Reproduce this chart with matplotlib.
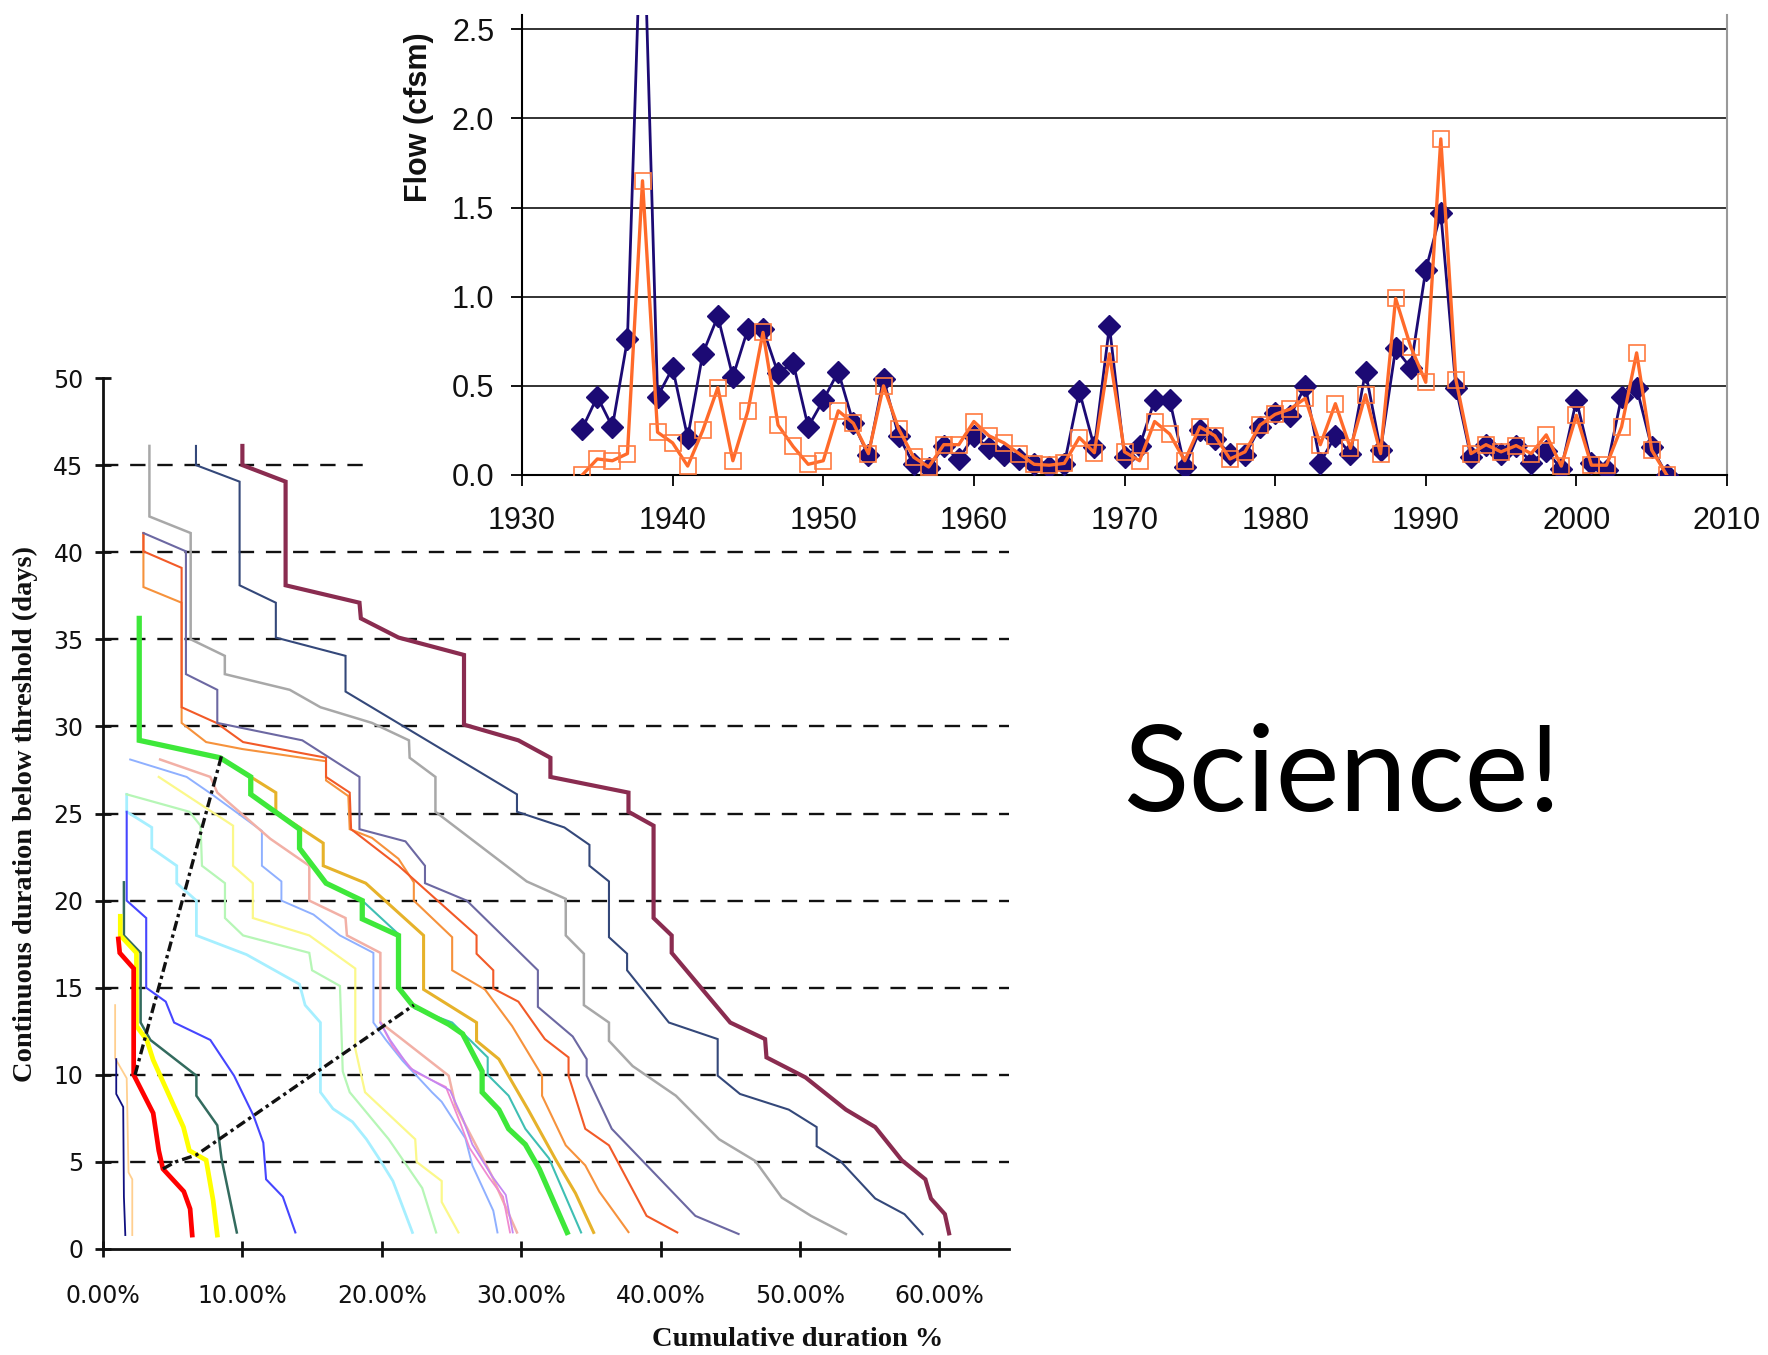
import matplotlib
matplotlib.use("Agg")
import matplotlib.pyplot as plt
import numpy as np

# Annual flow series (top chart)
years = list(range(1934, 2007))
flow_blue = [0.26, 0.44, 0.27, 0.76, 3.40, 0.44, 0.60, 0.21, 0.68, 0.89,
             0.55, 0.82, 0.82, 0.57, 0.63, 0.27, 0.42, 0.58, 0.29, 0.11,
             0.54, 0.22, 0.06, 0.04, 0.16, 0.09, 0.22, 0.15, 0.11, 0.09,
             0.06, 0.045, 0.06, 0.47, 0.155, 0.835, 0.10, 0.16, 0.42, 0.42,
             0.045, 0.25, 0.20, 0.12, 0.11, 0.27, 0.35, 0.33, 0.50, 0.07,
             0.22, 0.12, 0.58, 0.14, 0.71, 0.60, 1.15, 1.47, 0.49, 0.10,
             0.17, 0.12, 0.165, 0.07, 0.135, 0.035, 0.42, 0.065, 0.03, 0.44,
             0.49, 0.155, 0.0]
flow_orange = [0.0, 0.09, 0.08, 0.12, 1.65, 0.24, 0.18, 0.05, 0.25, 0.49,
               0.08, 0.36, 0.80, 0.28, 0.16, 0.06, 0.08, 0.36, 0.29, 0.12,
               0.50, 0.26, 0.10, 0.045, 0.17, 0.17, 0.30, 0.22, 0.18, 0.12,
               0.06, 0.055, 0.065, 0.21, 0.125, 0.68, 0.13, 0.08, 0.30, 0.23,
               0.08, 0.27, 0.22, 0.09, 0.13, 0.28, 0.34, 0.37, 0.43, 0.17,
               0.40, 0.15, 0.45, 0.12, 0.99, 0.72, 0.52, 1.885, 0.535, 0.12,
               0.17, 0.13, 0.165, 0.12, 0.225, 0.05, 0.335, 0.055, 0.055, 0.27,
               0.685, 0.14, 0.0]
flow_ticks = [0.0, 0.5, 1.0, 1.5, 2.0, 2.5]

# Duration curves (bottom chart): (cumulative duration %, days)
curve_maroon = [(10.0, 46.1), (10.0, 45), (13.1, 44.05), (13.1, 38.1), (18.4, 37.1), (18.5, 36.2),
                (21.2, 35.1), (25.9, 34.1), (25.9, 30.1), (29.8, 29.2), (32.1, 28.2), (32.1, 27.1),
                (37.7, 26.2), (37.7, 25.1), (39.5, 24.3), (39.5, 19.0), (40.8, 18.0), (40.8, 17.0),
                (45.0, 13.0), (47.5, 12.05), (47.6, 11.0), (50.4, 9.85), (53.3, 8.0), (55.4, 7.0),
                (57.3, 5.1), (59.0, 4.0), (59.4, 2.9), (60.4, 2.0), (60.7, 0.9)]
curve_navy_slate = [(6.67, 46.1), (6.67, 45), (9.8, 44.05), (9.8, 38.1), (12.4, 37.1), (12.4, 35.1),
                    (17.4, 34.05), (17.4, 32.0), (29.7, 26.1), (29.7, 25.1), (33.1, 24.2), (34.9, 23.2),
                    (34.9, 22.0), (36.3, 21.1), (36.3, 17.9), (37.6, 16.95), (37.6, 16.0), (40.6, 13.0),
                    (44.1, 12.05), (44.1, 9.95), (45.7, 8.9), (49.2, 8.0), (51.2, 7.0), (51.2, 5.9),
                    (52.9, 5.05), (55.4, 2.9), (57.5, 2.0), (58.8, 0.85)]
curve_gray = [(3.33, 46.1), (3.33, 42.05), (6.29, 41.1), (6.29, 35.0), (8.74, 34.05), (8.74, 33.0),
              (13.4, 32.1), (15.6, 31.1), (19.3, 30.2), (21.95, 29.2), (22.0, 28.2), (23.85, 27.1),
              (23.85, 25.1), (30.4, 21.1), (33.2, 20.1), (33.2, 18.0), (34.5, 16.95), (34.5, 14.0),
              (36.3, 13.0), (36.3, 11.95), (38.0, 10.5), (41.1, 8.8), (44.2, 6.3), (46.8, 5.05),
              (48.7, 2.95), (50.8, 1.9), (53.3, 0.86)]
curve_purple = [(2.9, 41.1), (5.95, 40.05), (5.95, 33.0), (8.2, 32.1), (8.2, 30.2), (14.3, 29.2),
                (18.4, 27.1), (18.4, 24.1), (21.7, 23.4), (23.1, 22.0), (23.1, 21.0), (26.1, 20.0),
                (31.2, 16.0), (31.2, 13.9), (33.7, 12.2), (34.7, 10.9), (34.7, 9.95), (36.5, 6.9),
                (42.5, 1.9), (45.6, 0.86)]
curve_orange_red = [(2.9, 41.1), (2.9, 40.05), (5.64, 39.1), (5.64, 31.1), (8.14, 30.2), (10.05, 29.1),
                    (16.0, 28.2), (16.0, 27.1), (17.7, 26.2), (17.8, 24.1), (21.2, 22.0), (26.8, 18.0),
                    (26.8, 16.95), (28.0, 16.0), (28.0, 14.95), (29.8, 14.2), (31.7, 12.05), (33.4, 11.0),
                    (33.4, 9.95), (34.6, 6.9), (36.3, 5.95), (39.0, 1.9), (41.2, 0.95)]
curve_sandy = [(2.9, 41.1), (2.9, 38.0), (5.64, 37.1), (5.64, 30.2), (7.4, 29.1), (10.0, 28.7),
               (16.0, 28.0), (16.0, 26.9), (17.6, 26.0), (17.7, 24.1), (19.3, 23.6), (21.2, 22.4),
               (22.3, 21.05), (22.3, 20.0), (25.05, 17.9), (25.05, 16.0), (27.4, 14.9), (29.35, 12.8),
               (31.5, 9.95), (31.5, 8.8), (33.2, 5.95), (34.6, 4.8), (35.6, 3.3), (37.7, 0.97)]
curve_green = [(2.6, 36.2), (2.6, 29.2), (8.4, 28.2), (10.6, 27.1), (10.6, 26.1), (14.1, 24.1),
               (14.1, 23.0), (16.0, 21.0), (18.6, 20.0), (18.6, 18.95), (21.2, 18.0), (21.2, 15.0),
               (22.2, 14.0), (24.8, 12.9), (25.8, 12.35), (27.2, 10.2), (27.2, 9.0), (28.4, 8.0),
               (29.1, 6.9), (30.3, 6.0), (31.3, 4.6), (33.3, 0.95)]
curve_gold = [(2.6, 36.2), (2.6, 29.2), (8.4, 28.2), (12.4, 26.2), (12.4, 25.1), (15.8, 23.3),
              (15.8, 22.0), (18.85, 21.0), (23.0, 18.0), (23.0, 14.9), (26.8, 13.0), (26.8, 11.95),
              (28.4, 10.9), (30.5, 8.0), (32.5, 5.1), (33.9, 3.2), (35.2, 0.95)]
curve_teal = [(18.6, 20.0), (21.3, 18.0), (21.3, 15.0), (22.4, 13.8), (25.05, 13.0), (27.6, 11.0),
              (27.6, 10.0), (29.1, 8.8), (30.3, 6.9), (32.0, 5.2), (34.3, 0.95)]
curve_light_blue = [(1.95, 28.1), (6.0, 27.1), (7.9, 26.05), (11.4, 24.0), (11.4, 22.0), (12.8, 21.1),
                    (12.8, 20.0), (15.1, 19.2), (17.0, 18.0), (19.4, 17.0), (19.4, 13.0), (20.3, 12.0),
                    (21.5, 10.8), (23.6, 9.0), (24.3, 8.45), (26.0, 6.35), (26.5, 4.8), (28.0, 2.2),
                    (28.3, 0.95)]
curve_salmon = [(4.1, 28.1), (7.7, 27.1), (8.2, 26.2), (12.0, 23.55), (14.8, 22.0), (14.8, 20.0),
                (17.4, 19.0), (17.5, 18.0), (19.9, 17.0), (19.9, 13.0), (21.2, 12.2), (24.8, 9.95),
                (25.3, 8.2), (27.9, 4.2), (29.7, 0.95)]
curve_violet = [(19.9, 13.0), (20.6, 12.0), (22.0, 10.4), (24.9, 9.1), (25.8, 7.5), (26.5, 6.0),
                (27.9, 4.2), (28.9, 3.1), (29.4, 0.95)]
curve_pink = [(19.9, 13.0), (20.8, 11.6), (22.3, 10.2), (24.6, 9.3), (25.6, 7.3), (26.3, 5.8),
              (27.7, 4.1), (28.7, 3.0), (29.2, 0.95)]
curve_light_yellow = [(4.0, 27.1), (9.33, 24.3), (9.33, 22.0), (10.75, 21.0), (10.75, 19.0), (14.8, 18.0),
                      (18.1, 16.1), (18.1, 11.5), (18.8, 9.0), (22.4, 6.3), (22.5, 5.0), (24.3, 3.9),
                      (24.3, 2.7), (25.5, 0.95)]
curve_light_green = [(1.7, 26.1), (6.2, 25.1), (7.0, 24.3), (7.1, 22.0), (8.75, 21.0), (8.75, 19.0),
                     (10.05, 18.0), (14.8, 17.0), (15.0, 16.0), (17.0, 15.1), (17.2, 10.2), (17.7, 9.0),
                     (20.5, 6.3), (22.9, 3.5), (23.9, 0.95)]
curve_light_cyan = [(1.7, 26.1), (1.7, 25.1), (3.5, 24.2), (3.5, 23.0), (5.29, 22.0), (5.29, 21.0),
                    (6.7, 20.0), (6.7, 18.0), (10.3, 16.9), (14.1, 15.2), (14.5, 14.0), (15.6, 13.0),
                    (15.6, 9.0), (16.5, 8.05), (17.9, 7.3), (18.9, 6.3), (19.8, 5.2), (20.8, 3.9),
                    (22.2, 0.95)]
curve_blue = [(1.7, 25.1), (1.7, 20.0), (3.1, 19.0), (3.1, 15.0), (4.5, 14.2), (5.1, 13.0), (7.7, 12.0),
              (9.4, 9.95), (10.8, 7.65), (11.5, 6.1), (11.7, 4.0), (12.9, 3.0), (13.8, 0.95)]
curve_dark_teal = [(1.5, 21.05), (1.5, 18.0), (2.7, 17.0), (2.7, 13.0), (3.4, 12.0), (6.7, 9.95),
                   (6.7, 8.8), (8.2, 7.1), (8.5, 5.2), (9.6, 0.95)]
curve_yellow = [(1.24, 19.1), (1.24, 18.0), (2.4, 17.0), (2.4, 12.8), (3.14, 12.0), (3.6, 10.85),
                (5.77, 7.0), (6.2, 5.65), (7.4, 5.1), (7.9, 2.8), (8.2, 0.8)]
curve_red = [(1.1, 17.8), (1.2, 17.0), (2.2, 16.1), (2.2, 10.0), (3.6, 7.8), (4.0, 5.65), (4.3, 4.6),
             (5.8, 3.3), (6.25, 2.3), (6.4, 0.8)]
curve_navy = [(0.95, 10.9), (0.95, 8.9), (1.45, 8.15), (1.5, 3.0), (1.6, 0.8)]
curve_peach = [(0.87, 14.0), (0.87, 10.95), (1.7, 9.8), (1.83, 4.4), (2.1, 4.0), (2.1, 0.8)]

guide_upper = [(2.3, 10.0), (8.5, 28.3)]
guide_lower = [(4.3, 4.6), (5.2, 5.0), (6.7, 5.4), (22.3, 14.0)]

threshold_days = [5, 10, 15, 20, 25, 30, 35, 40]
short_threshold_day = 45
short_threshold_end = 19.3   # % where the 45-day line stops
duration_pct_ticks = [0, 10, 20, 30, 40, 50, 60]
duration_day_ticks = [0, 5, 10, 15, 20, 25, 30, 35, 40, 45, 50]

# (data, colour, linewidth), drawn in this order
curve_styles = [
    (curve_peach, "#ffcf8f", 1.3),
    (curve_navy, "#101080", 1.3),
    (curve_light_cyan, "#a6efff", 2.0),
    (curve_light_green, "#b6f6b6", 1.6),
    (curve_light_yellow, "#fbf88a", 1.6),
    (curve_light_blue, "#8fb0ff", 1.4),
    (curve_salmon, "#f2b0a6", 1.8),
    (curve_pink, "#f08ad0", 1.3),
    (curve_violet, "#c487f2", 1.3),
    (curve_teal, "#3fbfb3", 1.5),
    (curve_gold, "#e6b22a", 2.2),
    (curve_green, "#3ee83a", 3.8),
    (curve_sandy, "#f6923c", 1.5),
    (curve_orange_red, "#f25a28", 1.5),
    (curve_purple, "#6c68a2", 1.5),
    (curve_gray, "#a8a8a8", 1.8),
    (curve_navy_slate, "#34487a", 1.5),
    (curve_maroon, "#8a2c50", 3.0),
    (curve_blue, "#4646ff", 1.5),
    (curve_dark_teal, "#336b5e", 1.8),
    (curve_yellow, "#ffff00", 3.4),
    (curve_red, "#ff0000", 3.4),
]

W, H = 1768, 1355
fig = plt.figure(figsize=(W / 100, H / 100), dpi=100)
fig.patch.set_facecolor("white")

# ---------------- bottom: duration curves ----------------
ax2 = fig.add_axes([103 / W, 1 - 1249 / H, 906 / W, 871 / H])
ax2.set_facecolor("none")
ax2.set_xlim(0, 65)
ax2.set_ylim(0, 50)

for d in threshold_days:
    ax2.plot([0, 65], [d, d], color="#111111", lw=1.7, linestyle=(0, (6.5, 5)), zorder=1)
ax2.plot([0, short_threshold_end], [short_threshold_day, short_threshold_day],
         color="#111111", lw=1.7, linestyle=(0, (6.5, 5)), zorder=1)

for data, col, lw in curve_styles:
    xs = [p[0] for p in data]
    ys = [p[1] for p in data]
    ax2.plot(xs, ys, color=col, lw=lw, solid_joinstyle="miter", zorder=2)

for guide in (guide_upper, guide_lower):
    ax2.plot([p[0] for p in guide], [p[1] for p in guide], color="#111111", lw=2.4,
             linestyle=(0, (3, 1.2, 1, 1.2)), zorder=3)

for side in ("top", "right"):
    ax2.spines[side].set_visible(False)
for side in ("left", "bottom"):
    ax2.spines[side].set_linewidth(2.0)
    ax2.spines[side].set_color("#111111")
ax2.set_xticks(duration_pct_ticks)
ax2.set_xticklabels([f"{v:.2f}%" for v in duration_pct_ticks])
ax2.set_yticks(duration_day_ticks)
ax2.tick_params(axis="both", direction="inout", length=12, width=2, color="#111111",
                labelsize=17, labelcolor="#111111")
ax2.tick_params(axis="x", pad=19)
ax2.tick_params(axis="y", pad=8)
for lab in ax2.get_xticklabels() + ax2.get_yticklabels():
    lab.set_family("DejaVu Sans")

fig.text(798 / W, 1 - 1340 / H, "Cumulative duration %", ha="center", va="center",
         family="Liberation Serif", weight="bold", fontsize=20.5, color="#111111")
fig.text(25 / W, 1 - 814 / H, "Continuous duration below threshold (days)", ha="center",
         va="center", rotation=90, family="Liberation Serif", weight="bold", fontsize=20.5,
         color="#111111")

# ---------------- top: annual flow ----------------
ax1 = fig.add_axes([522 / W, 1 - 475 / H, 1205 / W, 460 / H])
ax1.set_facecolor("none")
ax1.set_xlim(1930, 2010)
ax1.set_ylim(0, 2.58)
for v in flow_ticks[1:]:
    ax1.axhline(v, color="#222222", lw=1.3, zorder=1)
ax1.plot(years, flow_blue, color="#1c0a74", lw=2.0, marker="D", ms=11,
         markerfacecolor="#1c0a74", markeredgecolor="#1c0a74", zorder=3)
ax1.plot(years, flow_orange, color="#ff6a2a", lw=2.4, marker="s", ms=12,
         markerfacecolor="none", markeredgecolor="#ff7a40", markeredgewidth=1.2, zorder=4)
ax1.spines["top"].set_visible(False)
ax1.spines["right"].set_color("#999999")
ax1.spines["right"].set_linewidth(1.5)
ax1.spines["left"].set_linewidth(1.5)
ax1.spines["bottom"].set_linewidth(1.5)
ax1.set_xticks(range(1930, 2011, 10))
ax1.set_yticks(flow_ticks)
ax1.set_yticklabels([f"{v:.1f}" for v in flow_ticks])
ax1.tick_params(axis="both", direction="out", length=8, width=1.3, labelsize=22,
                labelcolor="#111111")
ax1.tick_params(axis="x", pad=14)
ax1.tick_params(axis="y", pad=12)
for lab in ax1.get_xticklabels() + ax1.get_yticklabels():
    lab.set_family("Liberation Sans")
fig.text(419 / W, 1 - 117 / H, "Flow (cfsm)", ha="center", va="center", rotation=90,
         family="Liberation Sans", weight="bold", fontsize=22, color="#111111")

# ---------------- slide text ----------------
fig.text(1342 / W, 1 - 778 / H, "Science!", ha="center", va="center",
         family="Lato", fontsize=87, color="black")

fig.savefig("out.png", dpi=100, facecolor="white")
